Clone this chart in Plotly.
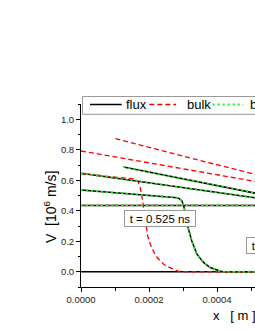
import plotly.graph_objects as go

# ---------------- data ----------------
# flux (black solid)
flux_x_init = [0.0, 0.00052]
flux_y_init = [0.435, 0.435]
flux_x_zero = [0.0, 0.00052]
flux_y_zero = [0.0, 0.0]
flux_x_a = [0.0, 0.0001, 0.0002, 0.00027, 0.000283, 0.00029, 0.000297, 0.000302,
            0.000307, 0.000316, 0.000326, 0.000341, 0.000361, 0.00038, 0.0004,
            0.00041, 0.00042, 0.00052]
flux_y_a = [0.536, 0.519, 0.502, 0.490, 0.486, 0.478, 0.464, 0.431,
            0.388, 0.279, 0.202, 0.115, 0.060, 0.028, 0.010,
            0.003, 0.0, 0.0]
flux_x_b = [0.0, 0.000513]
flux_y_b = [0.646, 0.485]
flux_x_c = [0.000125, 0.000513]
flux_y_c = [0.687, 0.515]

# bulk (red dashed)
bulk_x_init = [0.0, 0.00052]
bulk_y_init = [0.435, 0.435]
bulk_x_a = [0.0, 0.0001, 0.00015, 0.00016, 0.000169, 0.000174, 0.000179, 0.000184,
            0.000191, 0.000196, 0.000204, 0.000214, 0.000224, 0.000243, 0.000253,
            0.000272, 0.000285, 0.0003, 0.00052]
bulk_y_a = [0.643, 0.622, 0.612, 0.608, 0.585, 0.552, 0.497, 0.420,
            0.290, 0.235, 0.180, 0.130, 0.093, 0.049, 0.036,
            0.014, 0.004, 0.0, 0.0]
bulk_x_b = [0.0, 0.000513]
bulk_y_b = [0.792, 0.592]
bulk_x_c = [0.000101, 0.000513]
bulk_y_c = [0.873, 0.637]

# third model (green dotted) - coincides with flux curves
both_x_init, both_y_init = flux_x_init, flux_y_init
both_x_a, both_y_a = flux_x_a, flux_y_a
both_x_b, both_y_b = flux_x_b, flux_y_b
both_x_c, both_y_c = flux_x_c, flux_y_c

legend_names = ["flux", "bulk", "both"]
x_tickvals = [0.0, 0.0002, 0.0004]
x_ticktext = ["0.0000", "0.0002", "0.0004"]
label_t1 = " t = 0.525 ns "
label_t2 = " t = 1.05 ns "

# ---------------- figure ----------------
W, H = 255, 330
L, R, T, B = 81, 0, 104, 330 - 287
PW = W - L - R
PH = H - T - B

def px(xs):  # screen x -> paper
    return (xs - L) / PW

def py(ys):  # screen y -> paper
    return (H - B - ys) / PH

FONT = "Arial, Liberation Sans, sans-serif"
BLACK = "#000000"
RED = "#ff0000"
GREEN = "#22ee22"

fig = go.Figure()

def add(x, y, color, width, dash):
    fig.add_trace(go.Scatter(x=x, y=y, mode="lines", showlegend=False,
                             line=dict(color=color, width=width, dash=dash),
                             hoverinfo="skip"))

# black solid
for xs, ys in [(flux_x_init, flux_y_init), (flux_x_zero, flux_y_zero),
               (flux_x_a, flux_y_a), (flux_x_b, flux_y_b), (flux_x_c, flux_y_c)]:
    add(xs, ys, BLACK, 1.5, "solid")
# red dashed
for xs, ys in [(bulk_x_init, bulk_y_init), (bulk_x_a, bulk_y_a),
               (bulk_x_b, bulk_y_b), (bulk_x_c, bulk_y_c)]:
    add(xs, ys, RED, 1.3, "5px,3px")
# green dotted
for xs, ys in [(both_x_init, both_y_init), (both_x_a, both_y_a),
               (both_x_b, both_y_b), (both_x_c, both_y_c)]:
    add(xs, ys, GREEN, 1.8, "2px,3px")

shapes = []
annots = []

# legend box (custom, cropped at right edge like the reference)
shapes.append(dict(type="rect", xref="paper", yref="paper",
                   x0=px(82.5), x1=px(420), y0=py(114.3), y1=py(96.5),
                   line=dict(color="#999999", width=1), fillcolor="white",
                   layer="above"))
ly = py(104.5)
shapes.append(dict(type="line", xref="paper", yref="paper", x0=px(90), x1=px(121.7),
                   y0=ly, y1=ly, line=dict(color=BLACK, width=1.5), layer="above"))
shapes.append(dict(type="line", xref="paper", yref="paper", x0=px(149.3), x1=px(176),
                   y0=ly, y1=ly, line=dict(color=RED, width=1.3, dash="5px,3px"), layer="above"))
shapes.append(dict(type="line", xref="paper", yref="paper", x0=px(212.7), x1=px(243.3),
                   y0=ly, y1=ly, line=dict(color=GREEN, width=1.8, dash="2px,3px"), layer="above"))
for name, xl in zip(legend_names, [123.5, 184.5, 247.5]):
    annots.append(dict(xref="paper", yref="paper", x=px(xl), y=ly, xanchor="left",
                       yanchor="middle", text=name, showarrow=False,
                       font=dict(family=FONT, size=13, color=BLACK)))

# time labels
annots.append(dict(x=0.000232, y=0.348, xref="x", yref="y", text=label_t1,
                   showarrow=False, xanchor="center", yanchor="middle",
                   font=dict(family=FONT, size=11.5, color=BLACK),
                   bgcolor="white", bordercolor="#999999", borderwidth=1, borderpad=1.5))
annots.append(dict(x=0.000486, y=0.175, xref="x", yref="y", text=label_t2,
                   showarrow=False, xanchor="left", yanchor="middle",
                   font=dict(family=FONT, size=11.5, color=BLACK),
                   bgcolor="white", bordercolor="#999999", borderwidth=1, borderpad=1.5))

# axis titles
annots.append(dict(xref="paper", yref="paper", x=px(50), y=py(207), text="V  [10<sup>6</sup> m/s]",
                   textangle=-90, showarrow=False, xanchor="center", yanchor="middle",
                   font=dict(family=FONT, size=14, color=BLACK)))
annots.append(dict(xref="paper", yref="paper", x=px(211), y=py(315), text="x   [ m ]",
                   showarrow=False, xanchor="left", yanchor="middle",
                   font=dict(family=FONT, size=13, color=BLACK)))

fig.update_layout(
    width=W, height=H,
    margin=dict(l=L, r=R, t=T, b=B, pad=0),
    paper_bgcolor="white", plot_bgcolor="white",
    showlegend=False,
    shapes=shapes, annotations=annots,
    font=dict(family=FONT, color=BLACK),
)
fig.update_xaxes(
    range=[0, PW / 340000.0], tickmode="array", tickvals=x_tickvals, ticktext=x_ticktext,
    ticks="outside", ticklen=4, tickwidth=1, tickcolor=BLACK,
    showline=True, linecolor=BLACK, linewidth=1, showgrid=False, zeroline=False,
    tickfont=dict(family=FONT, size=9.5, color="#222222"),
    minor=dict(tickmode="linear", tick0=0, dtick=0.0001, ticks="outside", ticklen=2.5,
               tickcolor=BLACK, showgrid=False),
)
fig.update_yaxes(
    range=[-0.1, 1.1], tickmode="linear", tick0=0, dtick=0.2, tickformat=".1f",
    ticks="outside", ticklen=4, tickwidth=1, tickcolor=BLACK,
    showline=True, linecolor=BLACK, linewidth=1, showgrid=False, zeroline=False,
    tickfont=dict(family=FONT, size=9.5, color="#222222"),
    minor=dict(tickmode="linear", tick0=0, dtick=0.1, ticks="outside", ticklen=2.5,
               tickcolor=BLACK, showgrid=False),
)

fig.write_html("out.html", config={"displayModeBar": False},
               post_script="document.body.style.margin='0';document.body.style.overflow='hidden';")
